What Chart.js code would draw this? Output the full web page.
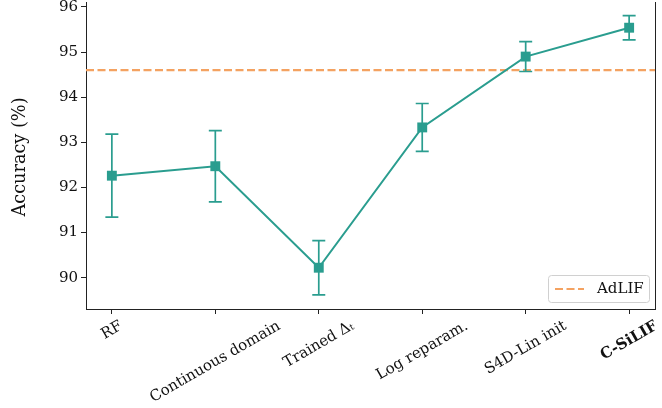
<!DOCTYPE html>
<html>
<head>
<meta charset="utf-8">
<script src="https://cdn.jsdelivr.net/npm/chart.js@4/dist/chart.umd.min.js"></script>
<style>
  html, body { margin: 0; padding: 0; background: #fff; overflow: hidden; }
  #wrap { width: 662px; height: 408px; overflow: hidden; }
  #c { display: block; margin-top: -5px; }
</style>
</head>
<body>
<div id="wrap"><canvas id="c" width="662" height="413"></canvas></div>
<script>
// Ablation steps and their mean accuracy with spread
const categories = ['RF', 'Continuous domain', 'Trained \u0394\u209c', 'Log reparam.', 'S4D-Lin init', 'C-SiLIF'];
const accuracy   = [92.26, 92.47, 90.22, 93.33, 94.90, 95.54];
const spread     = [0.92, 0.79, 0.60, 0.53, 0.33, 0.27];
const baselineLabel = 'AdLIF';
const baselineValue = 94.60;
const yTicks = [90, 91, 92, 93, 94, 95, 96];
const yRange = [89.305, 96.11];

const TEAL = '#2a9d8f';
const ORANGE = '#f4a261';
const FONT = '"DejaVu Serif", serif';
const FS = 15;
const xRange = [-0.25, categories.length - 1 + 0.25];

// Vertical error bars with caps, drawn from the data through the scales
const errorBars = {
  id: 'errorBars',
  afterDatasetsDraw(chart) {
    const { ctx, scales: { x, y } } = chart;
    ctx.save();
    ctx.strokeStyle = TEAL;
    ctx.lineWidth = 1.7;
    accuracy.forEach((v, i) => {
      const px = x.getPixelForValue(i);
      const top = y.getPixelForValue(v + spread[i]);
      const bot = y.getPixelForValue(v - spread[i]);
      ctx.beginPath();
      ctx.moveTo(px, top); ctx.lineTo(px, bot);
      ctx.moveTo(px - 6.5, top); ctx.lineTo(px + 6.5, top);
      ctx.moveTo(px - 6.5, bot); ctx.lineTo(px + 6.5, bot);
      ctx.stroke();
    });
    ctx.restore();
  }
};

// Right spine, rotated category labels, axis title and legend box
const decorations = {
  id: 'decorations',
  afterDraw(chart) {
    const { ctx, chartArea: a, scales: { x } } = chart;
    ctx.save();
    ctx.strokeStyle = '#222';
    ctx.lineWidth = 1;
    ctx.beginPath();
    ctx.moveTo(a.right + 0.5, a.top);
    ctx.lineTo(a.right + 0.5, a.bottom + 0.5);
    ctx.stroke();

    // category labels, rotated 30 degrees and centred under each tick
    const ang = Math.PI / 6;
    categories.forEach((label, i) => {
      const bold = i === categories.length - 1;
      ctx.font = (bold ? 'bold ' : '') + FS + 'px ' + FONT;
      const w = ctx.measureText(label).width;
      const h = FS * 1.15;
      const bh = w * Math.sin(ang) + h * Math.cos(ang);
      const cx = x.getPixelForValue(i);
      const cy = a.bottom + 5 + 3.5 + bh / 2;
      ctx.save();
      ctx.translate(cx, cy);
      ctx.rotate(-ang);
      ctx.fillStyle = '#111';
      ctx.textAlign = 'center';
      ctx.textBaseline = 'middle';
      ctx.fillText(label, 0, 0);
      ctx.restore();
    });

    // y axis title
    ctx.save();
    ctx.translate(20, a.top + 155);
    ctx.rotate(-Math.PI / 2);
    ctx.font = '17.7px ' + FONT;
    ctx.fillStyle = '#111';
    ctx.textAlign = 'center';
    ctx.textBaseline = 'middle';
    ctx.fillText('Accuracy (%)', 0, 0);
    ctx.restore();

    // legend
    const bx = a.right - 107, by = a.bottom - 34, bw = 101, bh2 = 27;
    ctx.fillStyle = 'rgba(255,255,255,0.8)';
    ctx.strokeStyle = '#d0d0d0';
    ctx.lineWidth = 1;
    ctx.beginPath();
    ctx.roundRect(bx + 0.5, by + 0.5, bw, bh2, 3);
    ctx.fill();
    ctx.stroke();
    ctx.strokeStyle = ORANGE;
    ctx.lineWidth = 2.2;
    ctx.setLineDash([8, 3.5]);
    ctx.beginPath();
    ctx.moveTo(bx + 7, by + bh2 / 2 + 0.5);
    ctx.lineTo(bx + 36, by + bh2 / 2 + 0.5);
    ctx.stroke();
    ctx.setLineDash([]);
    ctx.font = FS + 'px ' + FONT;
    ctx.fillStyle = '#111';
    ctx.textAlign = 'left';
    ctx.textBaseline = 'middle';
    ctx.fillText(baselineLabel, bx + 49, by + bh2 / 2 + 1);
    ctx.restore();
  }
};

new Chart(document.getElementById('c'), {
  type: 'line',
  data: {
    datasets: [
      {
        label: baselineLabel,
        data: [{ x: xRange[0], y: baselineValue }, { x: xRange[1], y: baselineValue }],
        borderColor: ORANGE,
        borderWidth: 2.2,
        borderDash: [8, 3.5],
        pointRadius: 0,
        order: 2
      },
      {
        label: 'Accuracy',
        data: accuracy.map((v, i) => ({ x: i, y: v })),
        borderColor: TEAL,
        backgroundColor: TEAL,
        borderWidth: 2,
        pointStyle: 'rect',
        pointRadius: 7,
        pointBorderWidth: 0,
        order: 1
      }
    ]
  },
  options: {
    responsive: false,
    animation: false,
    layout: { padding: { top: 0, right: 2, bottom: 0, left: 0 } },
    plugins: { legend: { display: false }, tooltip: { enabled: false } },
    scales: {
      x: {
        type: 'linear',
        min: xRange[0],
        max: xRange[1],
        afterBuildTicks: ax => { ax.ticks = categories.map((_, i) => ({ value: i })); },
        afterFit: ax => { ax.height = 99; ax.paddingLeft = 0; ax.paddingRight = 0; },
        ticks: { display: false },
        grid: { drawOnChartArea: false, drawTicks: true, tickLength: 5, color: '#222' },
        border: { display: true, color: '#222', width: 1 }
      },
      y: {
        min: yRange[0],
        max: yRange[1],
        afterBuildTicks: ax => { ax.ticks = yTicks.map(v => ({ value: v })); },
        afterFit: ax => { ax.width = 86; ax.paddingTop = 0; ax.paddingBottom = 0; },
        ticks: {
          font: { family: FONT, size: FS },
          color: '#111',
          padding: 3,
          callback: v => String(v)
        },
        grid: { drawOnChartArea: false, drawTicks: true, tickLength: 5, color: '#222' },
        border: { display: true, color: '#222', width: 1 }
      }
    }
  },
  plugins: [errorBars, decorations]
});
</script>
</body>
</html>
